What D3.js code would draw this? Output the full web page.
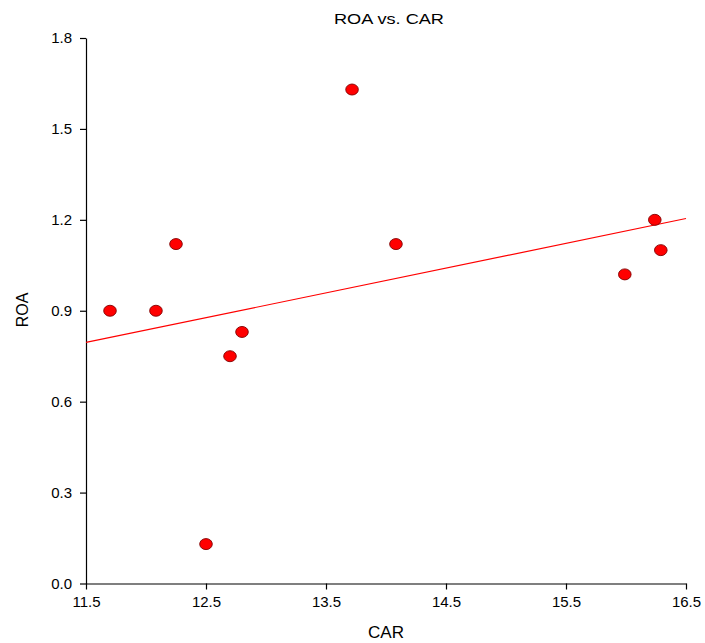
<!DOCTYPE html>
<html><head><meta charset="utf-8">
<script src="https://cdn.jsdelivr.net/npm/d3@7"></script>
<style>body{margin:0;background:#fff}svg{display:block}text{font-family:"Liberation Sans",Arial,sans-serif;fill:#000}</style>
</head><body>
<svg id="c" width="705" height="643"></svg>
<script>
const car = [11.7, 12.083, 12.25, 12.5, 12.7, 12.8, 13.717, 14.083, 15.99, 16.24, 16.29];
const roa = [0.90, 0.90, 1.12, 0.13, 0.75, 0.83, 1.63, 1.12, 1.02, 1.20, 1.10];
const xTicks = [11.5, 12.5, 13.5, 14.5, 15.5, 16.5];
const yTicks = [0.0, 0.3, 0.6, 0.9, 1.2, 1.5, 1.8];

const svg = d3.select("#c");
const x = d3.scaleLinear().domain([11.5, 16.5]).range([86, 686]);
const y = d3.scaleLinear().domain([0, 1.8]).range([583.5, 38]);

const xAxis = svg.append("g").attr("transform","translate(0,583.5)")
  .call(d3.axisBottom(x).tickValues(xTicks).tickFormat(d3.format(".1f")).tickSize(6).tickSizeOuter(0).tickPadding(7));
const yAxis = svg.append("g").attr("transform","translate(86,0)")
  .call(d3.axisLeft(y).tickValues(yTicks).tickFormat(d3.format(".1f")).tickSize(6).tickSizeOuter(0).tickPadding(8));
[xAxis,yAxis].forEach(g=>{
  g.selectAll("text").style("font-size","15px").style("font-family","'Liberation Sans',Arial,sans-serif").attr("fill","#000");
  g.selectAll("path,line").attr("stroke","#000").attr("stroke-width",1.2);
});

// regression line
const n = car.length;
const mx = d3.mean(car), my = d3.mean(roa);
let sxy=0, sxx=0;
for(let i=0;i<n;i++){sxy+=(car[i]-mx)*(roa[i]-my); sxx+=(car[i]-mx)**2;}
const b = sxy/sxx, a = my - b*mx;
const xd = x.domain();
svg.append("line")
  .attr("x1",x(xd[0])).attr("y1",y(a+b*xd[0]))
  .attr("x2",x(xd[1])).attr("y2",y(a+b*xd[1]))
  .attr("stroke","#ff0000").attr("stroke-width",1.2);

svg.append("g").selectAll("ellipse").data(car.map((c,i)=>[c,roa[i]])).join("ellipse")
  .attr("cx",d=>x(d[0])).attr("cy",d=>y(d[1])).attr("rx",6.3).attr("ry",5.5)
  .attr("fill","#ff0000").attr("stroke","#800000").attr("stroke-width",0.9);

svg.append("text").attr("x",389).attr("y",24).attr("text-anchor","middle").style("font-size","15px")
  .attr("textLength",110).attr("lengthAdjust","spacingAndGlyphs").text("ROA vs. CAR");
svg.append("text").attr("x",386).attr("y",638).attr("text-anchor","middle").style("font-size","16px")
  .attr("textLength",36).attr("lengthAdjust","spacingAndGlyphs").text("CAR");
svg.append("text").attr("transform","translate(28,310) rotate(-90)").attr("text-anchor","middle").style("font-size","16px").text("ROA");
</script>
</body></html>
